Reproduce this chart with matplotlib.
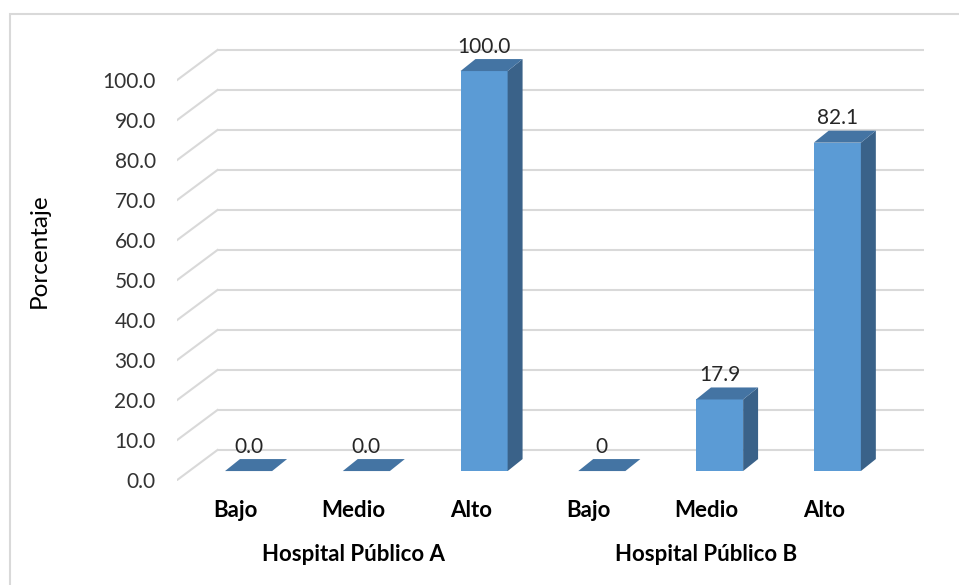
"""3D-style column chart: nivel por hospital"""
import matplotlib
matplotlib.use('Agg')
import matplotlib.pyplot as plt
from matplotlib.patches import Polygon, Rectangle

plt.rcParams['font.family'] = ['Lato', 'DejaVu Sans']

# data
hospitals = ['Hospital Público A', 'Hospital Público B']
levels = ['Bajo', 'Medio', 'Alto', 'Bajo', 'Medio', 'Alto']
values = [0.0, 0.0, 100.0, 0.0, 17.9, 82.1]
value_labels = ['0.0', '0.0', '100.0', '0', '17.9', '82.1']
y_ticks = [0, 10, 20, 30, 40, 50, 60, 70, 80, 90, 100]

# pseudo-3D geometry (slot units on x, percent units on y)
WALL_DX, WALL_DY = 0.348, 7.63     # depth of the floor
BAR_OFF_DX, BAR_OFF_DY = 0.108, 2.36   # bar front sits a bit behind the front edge
BAR_DX, BAR_DY = 0.127, 3.0        # bar depth
BAR_LEFT, BAR_W = 0.304, 0.40

FRONT = '#5B9BD5'
TOP = '#4474A3'
SIDE = '#3A6289'
GRID = '#D9D9D9'

fig = plt.figure(figsize=(9.59, 5.85), dpi=100)
ax = fig.add_axes([176.5 / 959, 104.5 / 585, 747.5 / 959, 460 / 585])
n = len(values)
ax.set_xlim(0, n + WALL_DX)
ax.set_ylim(0, 115)
for s in ax.spines.values():
    s.set_visible(False)
ax.set_xticks([])

# gridlines on back wall + side wall diagonals
for v in y_ticks:
    ax.plot([WALL_DX, n + WALL_DX], [v + WALL_DY, v + WALL_DY],
            color=GRID, lw=1.5, zorder=1, solid_capstyle='butt')
    ax.plot([0, WALL_DX], [v, v + WALL_DY], color=GRID, lw=1.5, zorder=1)

ax.set_yticks(y_ticks)
ax.set_yticklabels([f'{v:.1f}' for v in y_ticks])
ax.tick_params(axis='y', length=0, pad=15, labelsize=15, labelcolor='#333333')
ax.set_ylabel('Porcentaje', fontsize=17.5, color='black')
ax.yaxis.set_label_coords(-0.169, 0.50)

# bars
for i, (v, lab) in enumerate(zip(values, value_labels)):
    x0 = i + BAR_LEFT + BAR_OFF_DX
    y0 = BAR_OFF_DY
    x1 = x0 + BAR_W
    top = [(x0, y0 + v), (x1, y0 + v), (x1 + BAR_DX, y0 + v + BAR_DY),
           (x0 + BAR_DX, y0 + v + BAR_DY)]
    if v > 0:
        ax.add_patch(Rectangle((x0, y0), BAR_W, v, facecolor=FRONT,
                               edgecolor='none', zorder=3))
        side = [(x1, y0), (x1 + BAR_DX, y0 + BAR_DY),
                (x1 + BAR_DX, y0 + v + BAR_DY), (x1, y0 + v)]
        ax.add_patch(Polygon(side, closed=True, facecolor=SIDE,
                             edgecolor='none', zorder=3))
    ax.add_patch(Polygon(top, closed=True, facecolor=TOP,
                         edgecolor='none', zorder=3))
    ax.text(x0 + BAR_W / 2, y0 + v + BAR_DY + 0.6, lab, ha='center',
            va='bottom', fontsize=15, color='#262626', zorder=4)

# category and group labels
for i, lev in enumerate(levels):
    ax.text(i + 0.5, -7.6, lev, ha='center', va='center', fontsize=16,
            fontweight='bold', color='black', clip_on=False)
for g, name in enumerate(hospitals):
    ax.text(g * 3 + 1.5, -18.6, name, ha='center', va='center', fontsize=16,
            fontweight='bold', color='black', clip_on=False)

# chart area border
fig.patches.append(Rectangle((10 / 959, -0.1), 1.1, 1.1 - 14 / 585,
                             transform=fig.transFigure, facecolor='none',
                             edgecolor=GRID, lw=1.5))

fig.savefig('out.png', dpi=100)
